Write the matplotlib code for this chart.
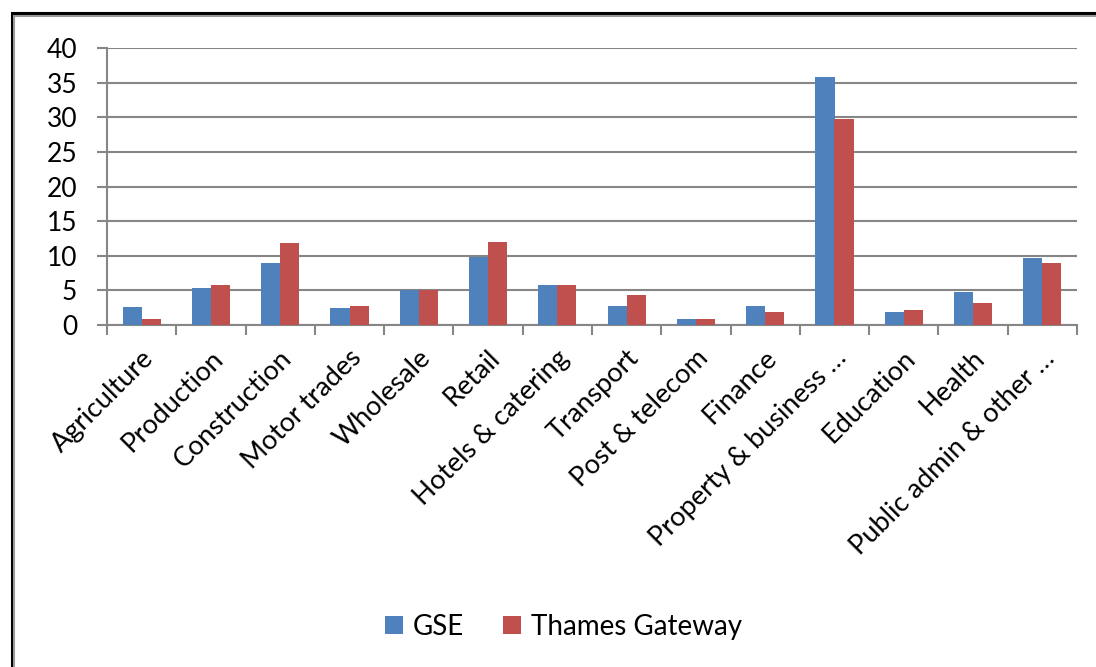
import matplotlib
matplotlib.use("Agg")
import matplotlib.pyplot as plt
import numpy as np
from matplotlib.patches import Rectangle
from matplotlib.transforms import ScaledTranslation

categories = ["Agriculture", "Production", "Construction", "Motor trades", "Wholesale",
              "Retail", "Hotels & catering", "Transport", "Post & telecom", "Finance",
              "Property & business \u2026", "Education", "Health", "Public admin & other \u2026"]
gse = [2.6, 5.4, 9.0, 2.4, 5.0, 9.8, 5.8, 2.8, 0.9, 2.8, 35.8, 1.9, 4.7, 9.7]
thames = [0.9, 5.8, 11.9, 2.8, 5.0, 12.0, 5.8, 4.4, 0.9, 1.9, 29.8, 2.1, 3.2, 9.0]
yticks = [0, 5, 10, 15, 20, 25, 30, 35, 40]

plt.rcParams['font.family'] = ['Lato', 'DejaVu Sans']
GRAY = '#868686'

fig = plt.figure(figsize=(10.96, 6.67), dpi=100)
fig.patch.set_facecolor('white')
ax = fig.add_axes([107/1096, 1-325/667, (1077-107)/1096, (325-48)/667])

x = np.arange(len(categories))
w = 0.275
ax.bar(x - w/2, gse, w, color='#4F81BD', label='GSE', zorder=3)
ax.bar(x + w/2, thames, w, color='#C0504D', label='Thames Gateway', zorder=3)

ax.set_xlim(-0.5, len(categories) - 0.5)
ax.set_ylim(0, 40)
ax.set_yticks(yticks)
ax.set_yticklabels([str(v) for v in yticks], fontsize=19)
ax.yaxis.grid(True, color=GRAY, linewidth=1.5, zorder=0)
ax.tick_params(axis='y', length=7.5, width=1.5, color=GRAY, pad=14)

ax.set_xticks(x)
ax.set_xticklabels(categories, rotation=45, ha='right', va='center',
                   rotation_mode='anchor', fontsize=19.5)
ax.tick_params(axis='x', length=0, pad=21)
ax.set_xticks(np.arange(len(categories) + 1) - 0.5, minor=True)
ax.tick_params(axis='x', which='minor', length=7.5, width=1.5, color=GRAY)
for lab in ax.get_xticklabels():
    lab.set_transform(lab.get_transform() + ScaledTranslation(8/100, 0, fig.dpi_scale_trans))

for s in ['top', 'right']:
    ax.spines[s].set_visible(False)
for s in ['left', 'bottom']:
    ax.spines[s].set_color(GRAY)
    ax.spines[s].set_linewidth(1.5)

leg = fig.legend(loc='center', bbox_to_anchor=(0.514, 0.06), ncol=2, frameon=False,
                 fontsize=20, handlelength=0.65, handleheight=0.65, columnspacing=1.4,
                 handletextpad=0.35)

# outer frame
fig.add_artist(Rectangle((11.5/1096, -0.1), 1.2, 1 - 13/667 + 0.1, transform=fig.transFigure,
                         fill=False, edgecolor='black', linewidth=2.2))
fig.add_artist(Rectangle((14/1096, -0.1), 1.2, 1 - 15.5/667 + 0.1, transform=fig.transFigure,
                         fill=False, edgecolor='#999999', linewidth=1.5))

fig.savefig('out.png', dpi=100)
